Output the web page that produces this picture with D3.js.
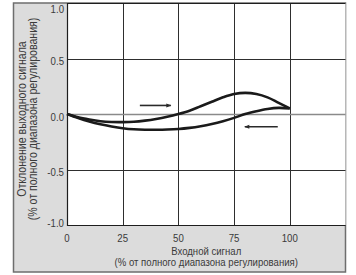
<!DOCTYPE html>
<html>
<head>
<meta charset="utf-8">
<script src="https://cdn.jsdelivr.net/npm/d3@7"></script>
<style>
  body { margin: 0; background: #fff; }
  svg { display: block; }
  text { font-family: "Liberation Sans", Arial, sans-serif; fill: #3a3a3a; }
</style>
</head>
<body>
<div id="chart"></div>
<script>
        // input signal (% of range) and output deviation (% of range)
        const forwardX = [0, 5, 10, 15, 20, 25, 30, 35, 40, 45, 50, 55, 60, 65, 70, 75, 80, 85, 90, 95, 100];
        const forwardY = [0, -0.03, -0.05, -0.065, -0.072, -0.073, -0.07, -0.06, -0.045, -0.025, 0.0, 0.03, 0.07, 0.11, 0.15, 0.18, 0.19, 0.18, 0.15, 0.1, 0.05];
        const returnX = [100, 95, 90, 85, 80, 75, 70, 65, 60, 55, 50, 45, 40, 35, 30, 25, 20, 15, 10, 5, 0];
        const returnY = [0.05, 0.055, 0.045, 0.025, 0.0, -0.035, -0.065, -0.09, -0.11, -0.125, -0.135, -0.14, -0.142, -0.142, -0.138, -0.128, -0.112, -0.092, -0.067, -0.036, 0];

        const xTicks = [0, 25, 50, 75, 100];
        const yTicks = [1.0, 0.5, 0.0, -0.5, -1.0];

        // arrows: [x1, x2, y] in data units
        const arrowRight = [32.7, 46.6, 0.077];
        const arrowLeft = [94.6, 79.8, -0.115];

        const xTitle = ["Входной сигнал", "(% от полного диапазона регулирования)"];
        const yTitle = ["Отклонение выходного сигнала", "(% от полного диапазона регулирования)"];

        const W = 356, H = 275;
        const plot = { left: 67, right: 345.5, top: 3, bottom: 225 };
        const narrow = 0.84; // squeeze to look like a condensed face

        const svg = d3.select("#chart").append("svg")
            .attr("width", W)
            .attr("height", H);

        const x = d3.scaleLinear().domain([0, 125]).range([plot.left, plot.right]);
        const y = d3.scaleLinear().domain([-1, 1]).range([plot.bottom, plot.top]);

        // grey panel
        svg.append("rect")
            .attr("x", 13.5).attr("y", 3)
            .attr("width", plot.right - 13.5).attr("height", 269)
            .attr("fill", "#dcdcdc")
            .attr("stroke", "#6e6e6e")
            .attr("stroke-width", 1.5);

        // white plot area
        svg.append("rect")
            .attr("x", plot.left).attr("y", plot.top)
            .attr("width", plot.right - plot.left).attr("height", plot.bottom - plot.top)
            .attr("fill", "#fff");

        const defs = svg.append("defs");
        defs.append("marker")
            .attr("id", "head")
            .attr("viewBox", "0 0 10 10")
            .attr("refX", 9).attr("refY", 5)
            .attr("markerWidth", 6).attr("markerHeight", 5)
            .attr("markerUnits", "userSpaceOnUse")
            .attr("orient", "auto")
            .append("path")
            .attr("d", "M0,1 L10,5 L0,9 Z")
            .attr("fill", "#2a2a2a");

        // grid
        svg.selectAll(".vgrid")
            .data(xTicks.filter(d => d > 0))
            .enter().append("line")
            .attr("x1", d => Math.round(x(d)) + 0.5).attr("x2", d => Math.round(x(d)) + 0.5)
            .attr("y1", plot.top).attr("y2", plot.bottom)
            .attr("stroke", "#2e2e2e").attr("stroke-width", 1);

        svg.selectAll(".hgrid")
            .data(yTicks.filter(d => d > -1 && d < 1))
            .enter().append("line")
            .attr("x1", plot.left).attr("x2", plot.right)
            .attr("y1", d => Math.round(y(d)) + 0.5).attr("y2", d => Math.round(y(d)) + 0.5)
            .attr("stroke", d => d === 0 ? "#8a8a8a" : "#2e2e2e")
            .attr("stroke-width", d => d === 0 ? 1.5 : 1);

        // plot frame (top, left, bottom)
        svg.append("path")
            .attr("d", `M${plot.right},${plot.top + 0.5} H${plot.left + 0.5} V${plot.bottom + 0.5} H${plot.right}`)
            .attr("fill", "none")
            .attr("stroke", "#1e1e1e")
            .attr("stroke-width", 1.2);

        // tick labels
        svg.selectAll(".ylab")
            .data(yTicks)
            .enter().append("text")
            .attr("transform", d => `translate(64,${Math.min(Math.max(y(d) + 6.5, 13), 227)}) scale(${narrow},1)`)
            .attr("text-anchor", "end")
            .style("font-size", "11.5px")
            .text(d => d.toFixed(1));

        svg.selectAll(".xlab")
            .data(xTicks)
            .enter().append("text")
            .attr("transform", d => `translate(${x(d)},242) scale(${narrow},1)`)
            .attr("text-anchor", "middle")
            .style("font-size", "11.5px")
            .text(d => d);

        // axis titles
        svg.selectAll(".xtitle")
            .data(xTitle)
            .enter().append("text")
            .attr("transform", (d, i) => `translate(${(plot.left + plot.right) / 2},${254.5 + i * 11.5}) scale(${narrow},1)`)
            .attr("text-anchor", "middle")
            .style("font-size", "11.4px")
            .text(d => d);

        svg.selectAll(".ytitle")
            .data(yTitle)
            .enter().append("text")
            .attr("transform", (d, i) => `translate(${26 + i * 11},119) rotate(-90) scale(${narrow},1)`)
            .attr("text-anchor", "middle")
            .style("font-size", "12.6px")
            .text(d => d);

        // curves
        const line = d3.line()
            .x(d => x(d[0]))
            .y(d => y(d[1]))
            .curve(d3.curveCatmullRom);

        svg.append("path")
            .datum(d3.zip(forwardX, forwardY))
            .attr("d", line)
            .attr("fill", "none")
            .attr("stroke", "#1a1a1a")
            .attr("stroke-width", 2.6);

        svg.append("path")
            .datum(d3.zip(returnX, returnY))
            .attr("d", line)
            .attr("fill", "none")
            .attr("stroke", "#1a1a1a")
            .attr("stroke-width", 2.6);

        // direction arrows
        svg.selectAll(".arrow")
            .data([arrowRight, arrowLeft])
            .enter().append("line")
            .attr("x1", d => x(d[0])).attr("x2", d => x(d[1]))
            .attr("y1", d => y(d[2])).attr("y2", d => y(d[2]))
            .attr("stroke", "#2a2a2a")
            .attr("stroke-width", 1.6)
            .attr("marker-end", "url(#head)");
</script>
</body>
</html>
